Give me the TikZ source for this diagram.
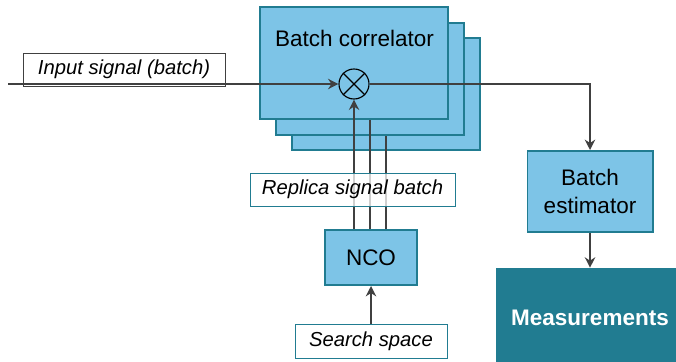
\documentclass[tikz,border=0pt]{standalone}
\usepackage{fontspec}
\setmainfont{Liberation Sans}
\usetikzlibrary{positioning,calc}
\usetikzlibrary{arrows.meta}

\definecolor{boxblue}{HTML}{7DC4E7}
\definecolor{boxteal}{HTML}{217C91}
\definecolor{wiregrey}{HTML}{404040}

\tikzset{
	block/.style={rectangle, draw=boxteal, line width=1.4pt, fill=boxblue, align=center, font=\fontsize{16}{20}\selectfont},
	tag/.style={rectangle, draw=boxteal, line width=0.6pt, fill=white, inner sep=0pt, font=\fontsize{14.4}{17}\selectfont\itshape},
	wire/.style={draw=wiregrey, line width=1pt},
	flow/.style={wire, -{Stealth[length=0.26cm, width=0.26cm]}}
}

\begin{document}
\begin{tikzpicture}[x=0.025cm, y=-0.025cm]
				\useasboundingbox (0,0) rectangle (676,361);
				% stacked correlators
				\node[block, minimum width=4.7cm, minimum height=2.8cm] (corr3) at (386,94) {};
				\node[block, minimum width=4.7cm, minimum height=2.8cm] (corr2) at (370,79) {};
				\node[block, minimum width=4.7cm, minimum height=2.8cm] (corr1) at (354,63) {};
				\node[font=\fontsize{16}{20}\selectfont] (corrtitle) at (354.5,38) {Batch correlator};
				\node[circle, draw=black, line width=0.8pt, fill=boxblue, minimum size=0.75cm, inner sep=0pt] (mult) at (354,84) {};
				\draw[line width=0.8pt] (mult.north west) -- (mult.south east) (mult.north east) -- (mult.south west);

				% input
				\node[tag, draw=wiregrey, minimum width=5.05cm, minimum height=0.825cm] (inlabel) at (124,69.5) {Input signal (batch)};
				\coordinate (insrc) at (8,84);
				\draw[flow] (insrc) -- (mult);

				% estimator and output
				\node[block, minimum width=3.125cm, minimum height=2.025cm] (estim) at (590,191.5) {Batch\\estimator};
				\node[rectangle, fill=boxteal, minimum width=4.7cm, minimum height=2.5cm, text=white, font=\fontsize{16}{20}\selectfont\bfseries] (meas) at (590,318) {Measurements};
				\draw[flow] (mult) -| (estim);
				\draw[flow] (estim) -- (meas);

				% replica generation
				\node[block, minimum width=2.3cm, minimum height=1.375cm] (nco) at (371,257.5) {NCO};
				\draw[flow] (nco.north -| mult) -- (mult);
				\draw[wire] (nco.north -| corr2) -- (corr1.south -| corr2);
				\draw[wire] (nco.north -| corr3) -- (corr2.south -| corr3);
				\node[tag, fill opacity=0.75, text opacity=1, minimum width=5.125cm, minimum height=0.825cm] (replabel) at (352.5,189.5) {Replica signal batch};
				\node[tag, minimum width=3.8cm, minimum height=0.85cm] (searchlabel) at (371,341) {Search space};
				\draw[flow] (searchlabel) -- (nco);
			\end{tikzpicture}
\end{document}
